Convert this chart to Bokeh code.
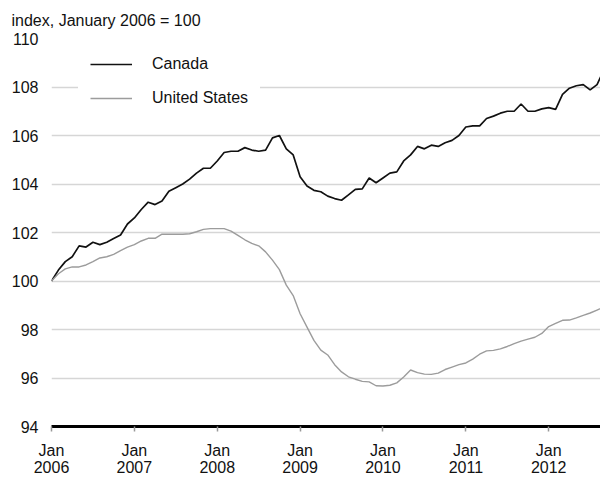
import numpy as np
from bokeh.plotting import figure
from bokeh.models import FixedTicker, Legend, LegendItem, Range1d
from bokeh.embed import file_html
from bokeh.resources import INLINE

tick_months = [0, 12, 24, 36, 48, 60, 72]
tick_labels = ["Jan\n2006", "Jan\n2007", "Jan\n2008", "Jan\n2009", "Jan\n2010", "Jan\n2011", "Jan\n2012"]
y_ticks = [94, 96, 98, 100, 102, 104, 106, 108, 110]
unit_title = "index, January 2006 = 100"

canada = [
    100.0, 100.45, 100.8, 101.0, 101.45, 101.4, 101.6, 101.5, 101.6, 101.75,
    101.9, 102.35, 102.6, 102.95, 103.25, 103.15, 103.3, 103.7, 103.85, 104.0,
    104.2, 104.45, 104.65, 104.65, 104.95, 105.3, 105.35, 105.35, 105.5, 105.4,
    105.35, 105.4, 105.9, 106.0, 105.45, 105.2, 104.3, 103.92, 103.74, 103.68,
    103.5, 103.4, 103.33, 103.55, 103.78, 103.8, 104.25, 104.05, 104.25, 104.45,
    104.5, 104.95, 105.2, 105.55, 105.45, 105.6, 105.55, 105.7, 105.8, 106.0,
    106.35, 106.4, 106.4, 106.7, 106.8, 106.92, 107.0, 107.0, 107.3, 107.0,
    107.0, 107.1, 107.15, 107.08, 107.7, 107.95, 108.05, 108.1, 107.88, 108.1,
    108.7,
]
united_states = [
    100.0, 100.3, 100.5, 100.58, 100.58, 100.66, 100.8, 100.95, 101.0, 101.1,
    101.25, 101.4, 101.5, 101.65, 101.76, 101.76, 101.93, 101.93, 101.93, 101.93,
    101.95, 102.03, 102.13, 102.16, 102.16, 102.16, 102.06, 101.88, 101.7, 101.55,
    101.45, 101.2, 100.86, 100.47, 99.83, 99.4, 98.65, 98.1, 97.55, 97.15,
    96.95, 96.55, 96.25, 96.05, 95.95, 95.86, 95.84, 95.68, 95.67, 95.7,
    95.8, 96.04, 96.33, 96.22, 96.16, 96.15, 96.2, 96.35, 96.45, 96.55,
    96.62, 96.78, 96.98, 97.12, 97.14, 97.2, 97.3, 97.42, 97.52, 97.6,
    97.68, 97.84, 98.12, 98.25, 98.38, 98.39, 98.48, 98.58, 98.68, 98.8,
    98.92,
]
months = list(range(len(canada)))

FONT = "Liberation Sans"

p = figure(width=600, height=478, output_backend="svg", toolbar_location=None,
           x_range=Range1d(0, 79.5), y_range=Range1d(94, 110),
           min_border_left=51, min_border_right=0, min_border_top=38, min_border_bottom=52)

p.title.text = unit_title
p.title.align = "left"
p.title.offset = -40
p.title.standoff = 19
p.title.text_font = FONT
p.title.text_font_size = "16px"
p.title.text_font_style = "normal"
p.title.text_color = "#111111"

p.outline_line_color = None
p.background_fill_color = "white"
p.border_fill_color = "white"
p.xgrid.grid_line_color = None
p.ygrid.grid_line_color = "#d6d6d6"
p.ygrid.grid_line_width = 1.6
p.ygrid.ticker = FixedTicker(ticks=y_ticks)

p.yaxis.ticker = FixedTicker(ticks=y_ticks)
p.yaxis.axis_line_color = None
p.yaxis.major_tick_line_color = None
p.yaxis.minor_tick_line_color = None
p.yaxis.major_tick_out = 0
p.yaxis.minor_tick_out = 0
p.yaxis.major_label_standoff = 13
p.yaxis.major_label_text_font = FONT
p.yaxis.major_label_text_font_size = "16px"
p.yaxis.major_label_text_color = "#111111"

p.xaxis.ticker = FixedTicker(ticks=tick_months)
p.xaxis.major_label_overrides = dict(zip(tick_months, tick_labels))
p.xaxis.axis_line_color = "black"
p.xaxis.axis_line_width = 3
p.xaxis.major_tick_out = 5
p.xaxis.major_tick_in = 0
p.xaxis.major_tick_line_color = "#999999"
p.xaxis.major_tick_line_width = 1.5
p.xaxis.minor_tick_line_color = None
p.xaxis.minor_tick_out = 0
p.xaxis.major_label_standoff = 10
p.xaxis.major_label_text_font = FONT
p.xaxis.major_label_text_font_size = "16px"
p.xaxis.major_label_text_line_height = 1.0
p.xaxis.major_label_text_color = "#111111"

r_ca = p.line(months, canada, line_color="#111111", line_width=1.7)
r_us = p.line(months, united_states, line_color="#9c9c9c", line_width=1.4)

legend = Legend(items=[LegendItem(label="Canada", renderers=[r_ca]),
                       LegendItem(label="United States", renderers=[r_us])],
                location=(27, 306), glyph_width=42, glyph_height=20, spacing=14,
                label_standoff=20, padding=12, margin=0,
                label_text_font=FONT, label_text_font_size="16px", label_text_color="#111111",
                border_line_alpha=0, background_fill_color="white", background_fill_alpha=1.0)
p.add_layout(legend, "center")

open("out.html", "w").write(file_html(p, INLINE))
